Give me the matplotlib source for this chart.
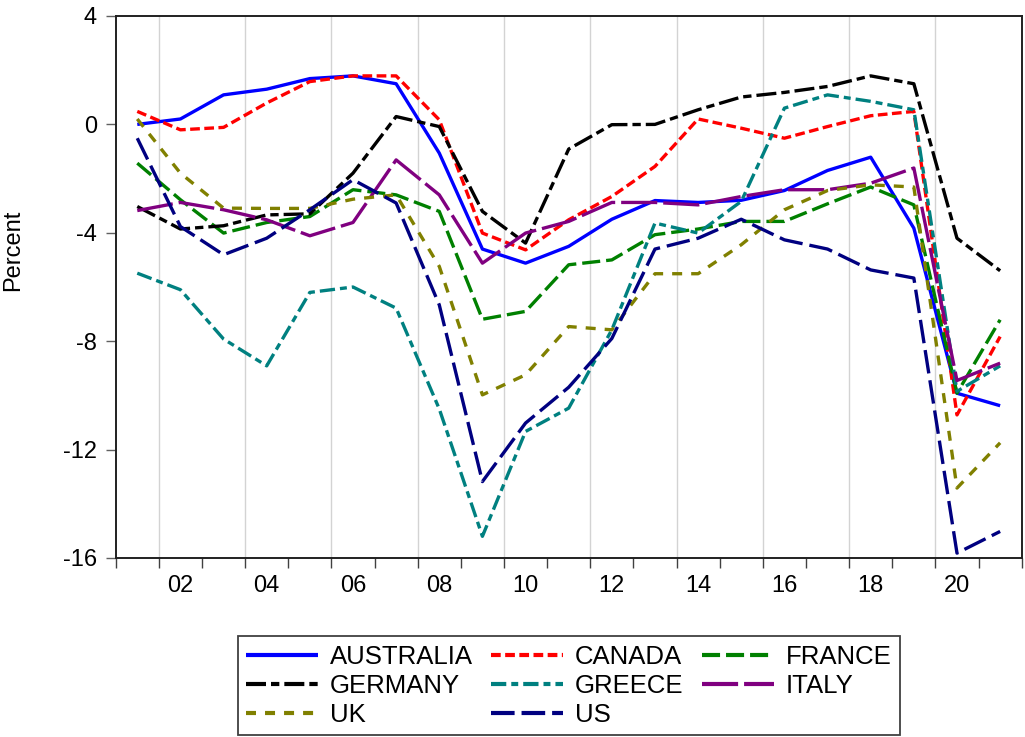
import matplotlib
matplotlib.use("Agg")
import matplotlib.pyplot as plt
import numpy as np

plt.rcParams['font.family'] = ['Liberation Sans', 'DejaVu Sans']
plt.rcParams['lines.scale_dashes'] = False

years = list(range(2001, 2022))

australia = [0.0, 0.2, 1.09, 1.3, 1.69, 1.79, 1.5, -1.06, -4.6, -5.12, -4.5, -3.5, -2.81, -2.88, -2.8, -2.44, -1.7, -1.21, -3.83, -9.92, -10.38]
canada = [0.48, -0.2, -0.11, 0.79, 1.58, 1.79, 1.79, 0.17, -4.01, -4.63, -3.52, -2.66, -1.55, 0.2, -0.14, -0.51, -0.08, 0.32, 0.48, -10.72, -7.83]
france = [-1.43, -2.78, -4.01, -3.62, -3.4, -2.41, -2.6, -3.21, -7.19, -6.9, -5.18, -5.0, -4.07, -3.86, -3.58, -3.58, -2.93, -2.31, -2.97, -9.92, -7.21]
germany = [-3.03, -3.86, -3.74, -3.34, -3.3, -1.8, 0.29, -0.08, -3.21, -4.38, -0.91, -0.01, 0.0, 0.54, 1.01, 1.18, 1.4, 1.79, 1.5, -4.2, -5.4]
greece = [-5.49, -6.1, -7.92, -8.91, -6.2, -6.0, -6.78, -10.5, -15.2, -11.33, -10.47, -7.58, -3.64, -4.01, -2.84, 0.6, 1.09, 0.85, 0.54, -9.85, -8.91]
italy = [-3.18, -2.88, -3.15, -3.52, -4.11, -3.62, -1.31, -2.6, -5.12, -4.01, -3.58, -2.88, -2.88, -2.97, -2.66, -2.41, -2.41, -2.17, -1.61, -9.45, -8.81]
uk = [0.2, -1.8, -3.09, -3.1, -3.1, -2.76, -2.6, -5.24, -9.98, -9.24, -7.46, -7.58, -5.51, -5.51, -4.44, -3.15, -2.44, -2.23, -2.31, -13.42, -11.75]
us = [-0.51, -3.77, -4.81, -4.2, -3.15, -2.04, -2.9, -6.66, -13.18, -11.02, -9.7, -7.9, -4.6, -4.2, -3.5, -4.26, -4.6, -5.37, -5.67, -15.82, -15.02]

series_names = ["AUSTRALIA", "CANADA", "FRANCE", "GERMANY", "GREECE", "ITALY", "UK", "US"]
series_values = [australia, canada, france, germany, greece, italy, uk, us]
colors = ["#0000FF", "#FF0000", "#008000", "#000000", "#008080", "#800080", "#808000", "#000080"]
dashes = [None, (7, 3.2), (13, 4.3), (14.4, 3.6, 6, 3.6), (11, 3.6, 5, 3.6), (26, 4.3), (7.2, 6.5), (17, 5)]

y_ticks = [4, 0, -4, -8, -12, -16]
x_label_years = list(range(2002, 2022, 2))
x_labels = ["02", "04", "06", "08", "10", "12", "14", "16", "18", "20"]

W, H = 1025, 737
fig = plt.figure(figsize=(W / 100, H / 100), dpi=100)
ax = fig.add_axes([115.7 / W, 1 - 558 / H, (1021.7 - 115.7) / W, (558 - 16) / H])

xs = np.array(years) + 0.5
lines = {}
for name, vals, col, ds in zip(series_names, series_values, colors, dashes):
    ln, = ax.plot(xs, vals, color=col, lw=2.4, label=name, solid_capstyle='butt', dash_capstyle='butt')
    if ds is not None:
        ln.set_dashes(ds)
    lines[name] = ln

ax.set_xlim(2001, 2022)
ax.set_ylim(-16, 4)

for gx in x_label_years:
    if gx <= 2020:
        ax.axvline(gx, color='#D3D3D3', lw=1.0, zorder=0)

ax.set_xticks(list(range(2001, 2023)))
ax.set_xticklabels([])
ax.set_xticks([y + 0.5 for y in x_label_years[:len(x_labels)]], minor=True)
ax.set_xticklabels(x_labels, minor=True)
ax.tick_params(axis='x', which='major', direction='out', length=7, width=1.0, color='#404040')
ax.tick_params(axis='x', which='minor', length=0, pad=12, labelsize=17)

ax.set_yticks(y_ticks)
ax.set_yticklabels([str(v) for v in y_ticks])
ax.tick_params(axis='y', which='major', direction='out', length=7.5, width=1.0, color='#606060', pad=6, labelsize=17)

for sp in ax.spines.values():
    sp.set_linewidth(1.4)
    sp.set_color('#202020')

fig.text(13 / W, 1 - 250 / H, "Percent", rotation=90, ha='center', va='center', fontsize=17)

order = ["AUSTRALIA", "GERMANY", "UK", "CANADA", "GREECE", "US", "FRANCE", "ITALY"]
leg = fig.legend([lines[n] for n in order], order, ncol=3, loc='lower center',
                 bbox_to_anchor=(568.7 / W, 2 / H), fontsize=18.5, frameon=True, fancybox=False,
                 edgecolor='#404040', framealpha=1, handlelength=2.8, handletextpad=0.47,
                 columnspacing=0.7, labelspacing=0.2, borderpad=0.32, borderaxespad=0)
leg.get_frame().set_linewidth(1.3)
for lh in leg.get_lines():
    lh.set_linewidth(3.0)

fig.savefig("out.png", dpi=100)
